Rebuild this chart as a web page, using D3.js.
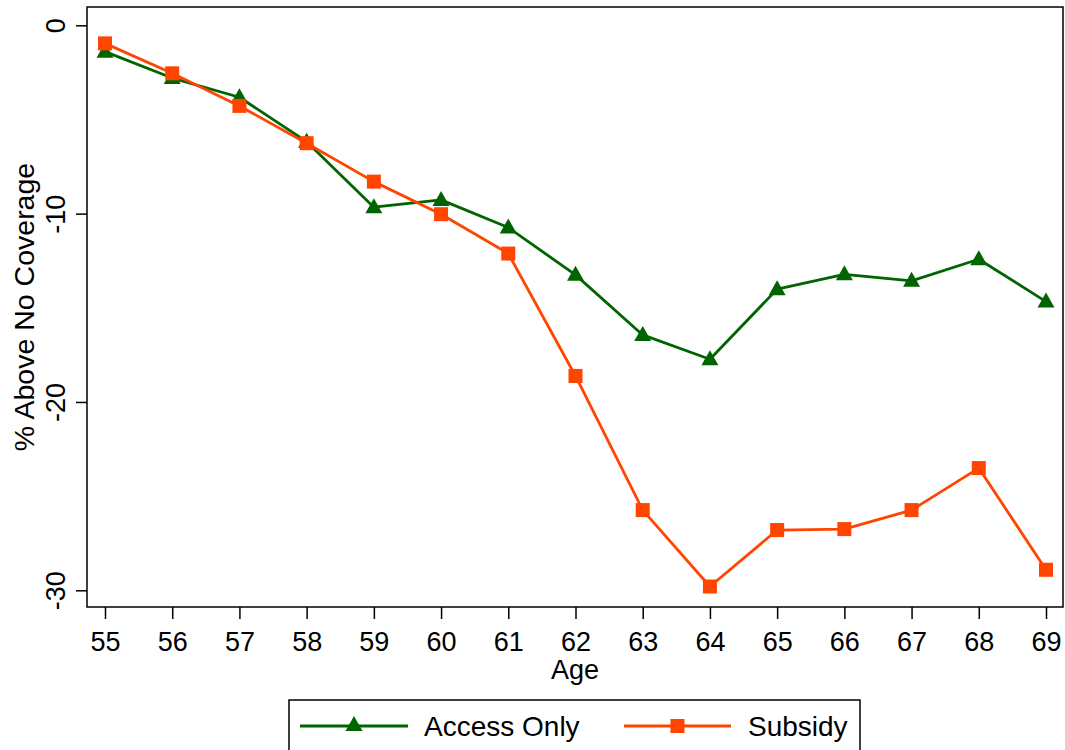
<!DOCTYPE html>
<html>
<head>
<meta charset="utf-8">
<script src="https://cdn.jsdelivr.net/npm/d3@7"></script>
<style>
  html, body { margin: 0; padding: 0; background: #fff; }
  svg { display: block; font-family: "Liberation Sans", Arial, sans-serif; }
</style>
</head>
<body>
<svg id="chart" width="1065" height="750"></svg>
<script>
// ---- Data ----
const ages = [55, 56, 57, 58, 59, 60, 61, 62, 63, 64, 65, 66, 67, 68, 69];
const accessOnly = [-1.40, -2.80, -3.82, -6.18, -9.66, -9.27, -10.74, -13.25, -16.44, -17.73, -14.01, -13.22, -13.57, -12.42, -14.67];
const subsidy = [-0.96, -2.55, -4.28, -6.26, -8.30, -10.03, -12.12, -18.62, -25.74, -29.80, -26.80, -26.75, -25.74, -23.51, -28.91];
const yTicks = [0, -10, -20, -30];
const seriesNames = ["Access Only", "Subsidy"];
const seriesColors = ["#006400", "#FF4500"];

// ---- Layout ----
const svg = d3.select("#chart");
const frame = { left: 87, right: 1063, top: 7, bottom: 607 };

const x = d3.scaleLinear().domain([55, 69]).range([105, 1046]);
const y = d3.scaleLinear().domain([0, -30]).range([25.3, 590.3]);

// Plot frame
svg.append("rect")
  .attr("x", frame.left).attr("y", frame.top)
  .attr("width", frame.right - frame.left).attr("height", frame.bottom - frame.top)
  .attr("fill", "none").attr("stroke", "#000").attr("stroke-width", 1.5);

// X axis
const xAxis = d3.axisBottom(x).tickValues(ages).tickFormat(d => String(d)).tickSize(12).tickSizeOuter(0);
const gx = svg.append("g").attr("transform", `translate(0,${frame.bottom})`).call(xAxis);
gx.select(".domain").remove();
gx.selectAll(".tick line").attr("stroke", "#000").attr("stroke-width", 1.5);
gx.selectAll(".tick text")
  .attr("font-size", 27).attr("font-family", "Liberation Sans, Arial, sans-serif")
  .attr("fill", "#000").attr("y", 0).attr("dy", null)
  .attr("transform", "translate(0,44)");

// Y axis
const yAxis = d3.axisLeft(y).tickValues(yTicks).tickFormat(d => String(d)).tickSize(11).tickSizeOuter(0);
const gy = svg.append("g").attr("transform", `translate(${frame.left},0)`).call(yAxis);
gy.select(".domain").remove();
gy.selectAll(".tick line").attr("stroke", "#000").attr("stroke-width", 1.5);
gy.selectAll(".tick text")
  .attr("font-size", 27).attr("font-family", "Liberation Sans, Arial, sans-serif")
  .attr("fill", "#000").attr("x", null).attr("dy", null)
  .attr("text-anchor", "middle")
  .attr("transform", "translate(-22,0) rotate(-90)");

// Axis titles
svg.append("text")
  .attr("x", (frame.left + frame.right) / 2).attr("y", 679)
  .attr("text-anchor", "middle").attr("font-size", 27).attr("fill", "#000")
  .text("Age");
svg.append("text")
  .attr("transform", `translate(34,${(frame.top + frame.bottom) / 2}) rotate(-90)`)
  .attr("text-anchor", "middle").attr("font-size", 28.5).attr("fill", "#000")
  .text("% Above No Coverage");

// ---- Series ----
const line = d3.line().x(d => x(d[0])).y(d => y(d[1]));

function triPath(cx, cy) {
  const w = 17, h = 15;
  return `M${cx},${cy - h * 0.6}L${cx + w / 2},${cy + h * 0.4}L${cx - w / 2},${cy + h * 0.4}Z`;
}

const seriesData = [accessOnly, subsidy];
seriesData.forEach((vals, i) => {
  const pts = ages.map((a, j) => [a, vals[j]]);
  svg.append("path").datum(pts)
    .attr("d", line).attr("fill", "none")
    .attr("stroke", seriesColors[i]).attr("stroke-width", 2.8)
    .attr("stroke-linejoin", "round");
  if (i === 0) {
    svg.append("g").selectAll("path").data(pts).join("path")
      .attr("d", d => triPath(x(d[0]), y(d[1])))
      .attr("fill", seriesColors[i]);
  } else {
    svg.append("g").selectAll("rect").data(pts).join("rect")
      .attr("x", d => x(d[0]) - 7).attr("y", d => y(d[1]) - 7)
      .attr("width", 14).attr("height", 14)
      .attr("fill", seriesColors[i]);
  }
});

// ---- Legend ----
const lg = svg.append("g");
lg.append("rect")
  .attr("x", 289).attr("y", 700).attr("width", 571).attr("height", 70)
  .attr("fill", "#fff").attr("stroke", "#000").attr("stroke-width", 1.5);
const legendItems = [
  { x0: 300, x1: 408, tx: 424 },
  { x0: 624, x1: 731, tx: 748 }
];
const ly = 726;
legendItems.forEach((it, i) => {
  lg.append("line")
    .attr("x1", it.x0).attr("x2", it.x1).attr("y1", ly).attr("y2", ly)
    .attr("stroke", seriesColors[i]).attr("stroke-width", 2.8);
  const cx = (it.x0 + it.x1) / 2;
  if (i === 0) {
    lg.append("path").attr("d", triPath(cx, ly - 1)).attr("fill", seriesColors[i]);
  } else {
    lg.append("rect").attr("x", cx - 7).attr("y", ly - 7).attr("width", 14).attr("height", 14)
      .attr("fill", seriesColors[i]);
  }
  lg.append("text")
    .attr("x", it.tx).attr("y", ly + 10)
    .attr("font-size", 28).attr("fill", "#000")
    .text(seriesNames[i]);
});
</script>
</body>
</html>
